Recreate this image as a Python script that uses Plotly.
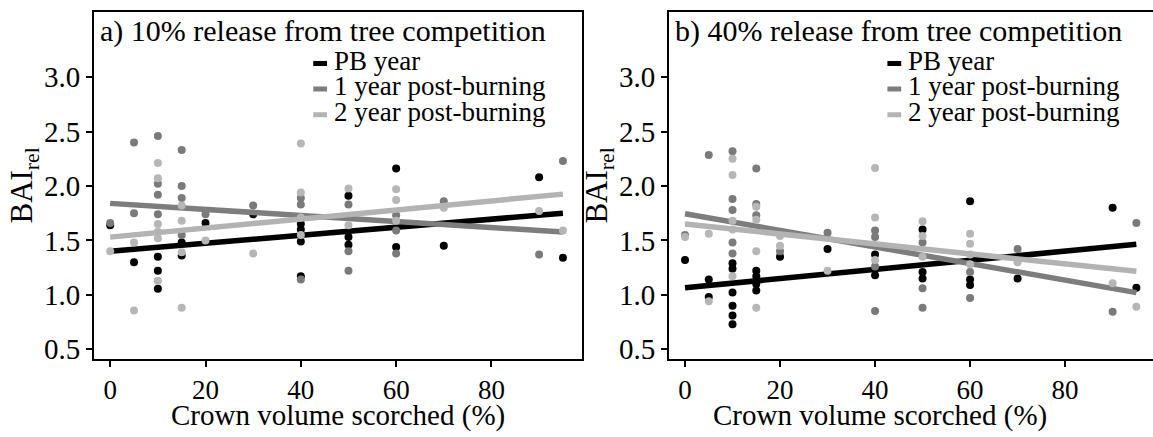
import plotly.graph_objects as go

# ---------------- data ----------------
# Panel a) 10% release from tree competition
a_pb_x = [0, 5, 10, 10, 10, 15, 15, 20, 30, 40, 40, 40, 40, 50, 50, 50, 60, 60, 70, 90, 95]
a_pb_y = [1.64, 1.30, 1.35, 1.22, 1.055, 1.48, 1.36, 1.66, 1.74, 1.65, 1.60, 1.49, 1.17,
          1.91, 1.53, 1.46, 2.16, 1.44, 1.45, 2.08, 1.34]
a_y1_x = [0, 5, 5, 10, 10, 10, 10, 15, 15, 15, 15, 20, 30, 40, 40, 40, 50, 50, 50, 60, 60, 60, 70, 90, 95]
a_y1_y = [1.66, 2.40, 1.75, 2.46, 2.02, 1.92, 1.74, 2.33, 2.00, 1.89, 1.55, 1.74, 1.82,
          1.89, 1.83, 1.14, 1.83, 1.40, 1.22, 1.73, 1.59, 1.38, 1.86, 1.37, 2.23]
a_y2_x = [0, 5, 5, 10, 10, 10, 10, 10, 10, 15, 15, 15, 15, 20, 30, 40, 40, 40, 40, 50, 50,
          60, 60, 60, 70, 90, 95]
a_y2_y = [1.40, 1.48, 0.855, 2.21, 2.07, 1.65, 1.58, 1.52, 1.13, 1.82, 1.68, 1.39, 0.88,
          1.50, 1.38, 2.39, 1.94, 1.71, 1.55, 1.976, 1.64, 1.97, 1.87, 1.68, 1.80, 1.77, 1.59]
a_fit_x = [0, 95]
a_fit_pb = [1.40, 1.75]
a_fit_y1 = [1.84, 1.576]
a_fit_y2 = [1.53, 1.925]

# Panel b) 40% release from tree competition
b_pb_x = [0, 5, 5, 10, 10, 10, 10, 10, 10, 15, 15, 15, 15, 20, 30, 40, 40, 50, 50, 50,
          60, 60, 60, 70, 90, 95]
b_pb_y = [1.32, 1.14, 0.98, 1.29, 1.24, 1.02, 0.90, 0.81, 0.73, 1.22, 1.17, 1.10, 1.04,
          1.35, 1.42, 1.37, 1.18, 1.60, 1.21, 1.15, 1.86, 1.14, 1.09, 1.15, 1.80, 1.065]
b_y1_x = [0, 5, 10, 10, 10, 10, 10, 15, 15, 15, 20, 30, 40, 40, 40, 40, 50, 50, 50, 60, 60,
          70, 90, 95]
b_y1_y = [1.55, 2.285, 2.32, 1.88, 1.78, 1.48, 1.38, 2.16, 1.835, 1.73, 1.40, 1.57,
          1.59, 1.53, 1.26, 0.85, 1.48, 1.06, 0.88, 1.21, 0.97, 1.42, 0.845, 1.66]
b_y2_x = [0, 5, 5, 10, 10, 10, 10, 10, 15, 15, 15, 15, 20, 20, 30, 40, 40, 40, 50, 50, 50,
          60, 60, 60, 60, 70, 90, 95]
b_y2_y = [1.53, 1.56, 0.94, 2.25, 2.10, 1.68, 1.60, 1.17, 1.81, 1.69, 1.40, 0.88, 1.54, 1.45,
          1.22, 2.164, 1.71, 1.32, 1.675, 1.54, 1.35, 1.56, 1.47, 1.37, 1.28, 1.30, 1.107, 0.89]
b_fit_x = [0, 95]
b_fit_pb = [1.065, 1.464]
b_fit_y1 = [1.745, 1.02]
b_fit_y2 = [1.65, 1.216]

series_names = ["PB year", "1 year post-burning", "2 year post-burning"]
panel_titles = ["a) 10% release from tree competition", "b) 40% release from tree competition"]
x_title = "Crown volume scorched (%)"
y_title = "BAI<sub>rel</sub>"
y_ticks = [0.5, 1.0, 1.5, 2.0, 2.5, 3.0]
y_ticktext = ["0.5", "1.0", "1.5", "2.0", "2.5", "3.0"]
x_ticks = [0, 20, 40, 60, 80]

# ---------------- styling ----------------
FONT = "Liberation Serif"
pt_colors = ["#000000", "#7a7a7a", "#b6b6b6"]
ln_colors = ["#000000", "#7d7d7d", "#b3b3b3"]
W, H = 1153, 437

fig = go.Figure()

panels = [
    (a_pb_x, a_pb_y, a_y1_x, a_y1_y, a_y2_x, a_y2_y, a_fit_x, a_fit_pb, a_fit_y1, a_fit_y2),
    (b_pb_x, b_pb_y, b_y1_x, b_y1_y, b_y2_x, b_y2_y, b_fit_x, b_fit_pb, b_fit_y1, b_fit_y2),
]

for i, p in enumerate(panels):
    xr = "x" if i == 0 else "x2"
    yr = "y" if i == 0 else "y2"
    pts = [(p[0], p[1]), (p[2], p[3]), (p[4], p[5])]
    fits = [p[7], p[8], p[9]]
    for k in range(3):
        fig.add_trace(go.Scatter(x=pts[k][0], y=pts[k][1], mode="markers",
                                 marker=dict(size=8, color=pt_colors[k], line=dict(width=0)),
                                 xaxis=xr, yaxis=yr, showlegend=False, name=series_names[k]))
        fig.add_trace(go.Scatter(x=p[6], y=fits[k], mode="lines",
                                 line=dict(width=5.5, color=ln_colors[k]),
                                 xaxis=xr, yaxis=yr, showlegend=False, name=series_names[k]))

y_dom = [1 - 364 / H, 1 - 12 / H]
x_dom1 = [94 / W, 582 / W]
x_dom2 = [669 / W, 1.0]
line_common = dict(showline=True, linewidth=2, linecolor="black", ticks="outside",
                   ticklen=6, tickwidth=2, tickcolor="black", showgrid=False, zeroline=False)
xtick_font = dict(family=FONT, size=27, color="black")
ytick_font = dict(family=FONT, size=29, color="black")
ytitle_font = dict(family=FONT, size=31, color="black")

fig.update_layout(
    width=W, height=H, margin=dict(l=0, r=0, t=0, b=0),
    paper_bgcolor="white", plot_bgcolor="white", showlegend=False,
    xaxis=dict(domain=x_dom1, range=[-3.4, 99], tickvals=x_ticks, mirror=True,
               tickfont=xtick_font, **line_common),
    yaxis=dict(domain=y_dom, range=[0.41, 3.6], tickvals=y_ticks, ticktext=y_ticktext, mirror=True,
               tickfont=ytick_font, title=dict(text=y_title, standoff=2, font=ytitle_font),
               **line_common),
    xaxis2=dict(domain=x_dom2, range=[-3.37, 98.5], tickvals=x_ticks, mirror=True,
                anchor="y2", tickfont=xtick_font, **line_common),
    yaxis2=dict(domain=y_dom, range=[0.41, 3.6], tickvals=y_ticks, ticktext=y_ticktext, mirror=False,
                anchor="x2", tickfont=ytick_font,
                title=dict(text=y_title, standoff=2, font=ytitle_font), **line_common),
)

annotations = []
shapes = []
leg_text_y = [3.15, 2.915, 2.68]
leg_key_y = [3.125, 2.89, 2.655]
x_title_centers = [338 / W, 880 / W]
for i in range(2):
    xr = "x" if i == 0 else "x2"
    yr = "y" if i == 0 else "y2"
    # x-axis title placed just under the tick labels (as in the reference)
    annotations.append(dict(x=x_title_centers[i], y=1 - 421 / H, xref="paper", yref="paper",
                            text=x_title, showarrow=False, xanchor="center", yanchor="middle",
                            font=dict(family=FONT, size=29, color="black")))
    annotations.append(dict(x=-2.5, y=3.42, xref=xr, yref=yr, text=panel_titles[i],
                            showarrow=False, xanchor="left", yanchor="middle",
                            font=dict(family=FONT, size=30, color="black")))
    for k in range(3):
        annotations.append(dict(x=46.5, y=leg_text_y[k], xref=xr, yref=yr,
                                text=series_names[k], showarrow=False,
                                xanchor="left", yanchor="middle",
                                font=dict(family=FONT, size=27, color="black")))
        shapes.append(dict(type="line", xref=xr, yref=yr, x0=42.6, x1=45.5,
                           y0=leg_key_y[k], y1=leg_key_y[k],
                           line=dict(color=ln_colors[k], width=5)))
fig.update_layout(annotations=annotations, shapes=shapes)

fig.write_html("out.html")
